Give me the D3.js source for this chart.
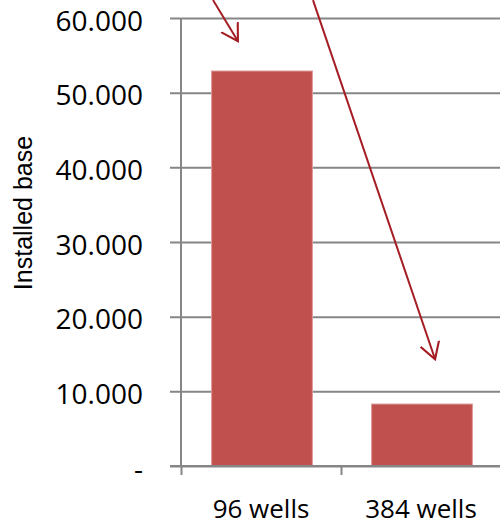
<!DOCTYPE html>
<meta charset="utf-8">
<style>
body { margin: 0; background: #fff; }
.tick text { fill: #000; }
.grid line { stroke: #868686; stroke-width: 2px; }
.grid path { display: none; }
.arrow { fill: none; stroke: #a51d24; stroke-width: 2px; }
</style>
<body>
<script src="https://d3js.org/d3.v7.min.js"></script>
<script>

// data
var categories = ["96 wells", "384 wells"];
var installed = [52900, 8300];
var yTicks = [0, 10000, 20000, 30000, 40000, 50000, 60000];

// arrows in chart units: x = category position (0..2), y = installed base value
var arrowStart = [[0.20, 62400], [0.825, 62400]];
var arrowEnd = [[0.356, 56900], [1.588, 14300]];

var margin = {top: 18, right: -1, bottom: 59, left: 181},
    width = 500 - margin.left - margin.right,
    height = 525 - margin.top - margin.bottom;

var svg = d3.select("body").append("svg")
    .attr("width", 500)
    .attr("height", 525);

var g = svg.append("g")
    .attr("transform", "translate(" + margin.left + "," + margin.top + ")");

var x = d3.scaleBand().domain(categories).range([0, width]).padding(0);
var xPos = d3.scaleLinear().domain([0, 2]).range([0, width]);
var y = d3.scaleLinear().domain([0, 60000]).range([height, 0]);

var fmt = function(d) {
    return d === 0 ? "-" : d3.format(",")(d).replace(/,/g, ".");
};

// gridlines + y axis ticks
var yAxis = g.append("g")
    .attr("class", "grid")
    .call(d3.axisLeft(y).tickValues(yTicks).tickSize(-width).tickFormat(fmt).tickPadding(38));
yAxis.selectAll(".tick line").attr("x1", -11);
yAxis.selectAll(".tick text")
    .attr("dy", "0.43em")
    .style("font-family", "'Open Sans', sans-serif")
    .style("font-size", "28px");

// y axis line
g.append("line")
    .attr("x1", 0).attr("x2", 0)
    .attr("y1", 0).attr("y2", height)
    .attr("stroke", "#868686")
    .attr("stroke-width", 2);

// bars
var barW = x.bandwidth() * 0.63;
g.selectAll(".bar")
    .data(installed)
    .enter().append("rect")
    .attr("class", "bar")
    .attr("x", function(d, i) { return x(categories[i]) + (x.bandwidth() - barW) / 2 + 1; })
    .attr("width", barW)
    .attr("y", function(d) { return y(d); })
    .attr("height", function(d) { return height - y(d); })
    .attr("fill", "#c0504d")
    .attr("stroke", "#dc9a98")
    .attr("stroke-width", 1);

// x axis: tick marks at category boundaries
var xAxis = g.append("g")
    .attr("transform", "translate(0," + height + ")")
    .call(d3.axisBottom(xPos).tickValues([0, 1, 2]).tickSize(9).tickSizeOuter(0).tickFormat(""));
xAxis.select(".domain").attr("stroke", "#868686").attr("stroke-width", 2).attr("d", "M-11,0H" + (width + 2));
xAxis.selectAll(".tick line").attr("stroke", "#868686").attr("stroke-width", 2);

// category labels
g.append("g")
    .attr("transform", "translate(0," + height + ")")
    .call(d3.axisBottom(x).tickSize(0).tickPadding(34))
    .call(function(s) { s.select(".domain").remove(); })
    .selectAll("text")
    .style("font-family", "'Open Sans', sans-serif")
    .style("font-size", "26px");

// y axis title
svg.append("text")
    .attr("transform", "translate(32," + (margin.top + height / 2 - 29) + ") rotate(-90)")
    .attr("text-anchor", "middle")
    .style("font-family", "'Liberation Sans', Arial, sans-serif")
    .style("font-size", "25px")
    .text("Installed base");

// arrows
svg.append("defs").append("marker")
    .attr("id", "head")
    .attr("viewBox", "0 0 12 14")
    .attr("refX", 11)
    .attr("refY", 7)
    .attr("markerWidth", 18)
    .attr("markerHeight", 21)
    .attr("markerUnits", "userSpaceOnUse")
    .attr("orient", "auto")
    .append("path")
    .attr("d", "M0,0.5 L11,7 L0,13.5")
    .attr("fill", "none")
    .attr("stroke", "#a51d24")
    .attr("stroke-width", 1.4);

g.selectAll(".arrow")
    .data(arrowEnd)
    .enter().append("line")
    .attr("class", "arrow")
    .attr("x1", function(d, i) { return xPos(arrowStart[i][0]); })
    .attr("y1", function(d, i) { return y(arrowStart[i][1]); })
    .attr("x2", function(d) { return xPos(d[0]); })
    .attr("y2", function(d) { return y(d[1]); })
    .attr("marker-end", "url(#head)");

</script>
</body>
